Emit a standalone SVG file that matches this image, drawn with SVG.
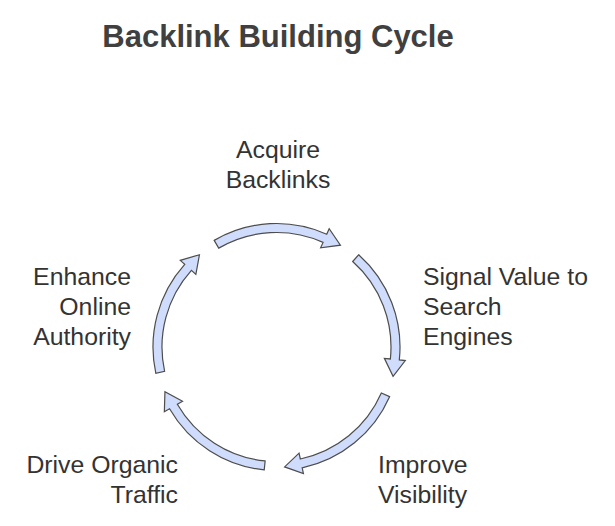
<svg xmlns="http://www.w3.org/2000/svg" xmlns:xlink="http://www.w3.org/1999/xlink" width="615" height="526" viewBox="0 0 615 526">
  <style>
    .title { font-family: "Liberation Sans", Arial, sans-serif; font-size: 31px; font-weight: bold; fill: #404040; }
    .lbl { font-family: "Liberation Sans", Arial, sans-serif; font-size: 24.8px; fill: #333333; }
    .arrow { fill: #d0dcfb; stroke: #4d4d4d; stroke-width: 1.2; stroke-linejoin: miter; }
  </style>
  <defs>
    <path id="arc" d="M -62.31,-106.63 A 123.5 123.5 0 0 1 50.23,-112.82 L 52.67,-118.30 L 63.93,-101.80 L 44.13,-99.12 L 46.57,-104.60 A 114.5 114.5 0 0 0 -57.77,-98.86 Z"/>
  </defs>
  <rect width="615" height="526" fill="#ffffff"/>
  <text class="title" x="278" y="47" text-anchor="middle">Backlink Building Cycle</text>

  <g id="connectors">
    <use xlink:href="#arc" href="#arc" class="arrow" transform="translate(276.5,347) rotate(0)"/>
    <use xlink:href="#arc" href="#arc" class="arrow" transform="translate(276.5,347) rotate(72)"/>
    <use xlink:href="#arc" href="#arc" class="arrow" transform="translate(276.5,347) rotate(144)"/>
    <use xlink:href="#arc" href="#arc" class="arrow" transform="translate(276.5,347) rotate(216)"/>
    <use xlink:href="#arc" href="#arc" class="arrow" transform="translate(276.5,347) rotate(288)"/>
  </g>

  <g id="acquire">
    <text class="lbl" x="278" y="158" text-anchor="middle">Acquire</text>
    <text class="lbl" x="278" y="188" text-anchor="middle">Backlinks</text>
  </g>
  <g id="signal">
    <text class="lbl" x="423" y="285">Signal Value to</text>
    <text class="lbl" x="423" y="315">Search</text>
    <text class="lbl" x="423" y="345">Engines</text>
  </g>
  <g id="improve">
    <text class="lbl" x="378" y="473">Improve</text>
    <text class="lbl" x="378" y="503">Visibility</text>
  </g>
  <g id="drive">
    <text class="lbl" x="178" y="473" text-anchor="end">Drive Organic</text>
    <text class="lbl" x="178" y="503" text-anchor="end">Traffic</text>
  </g>
  <g id="enhance">
    <text class="lbl" x="131" y="285" text-anchor="end">Enhance</text>
    <text class="lbl" x="131" y="315" text-anchor="end">Online</text>
    <text class="lbl" x="131" y="345" text-anchor="end">Authority</text>
  </g>
</svg>
